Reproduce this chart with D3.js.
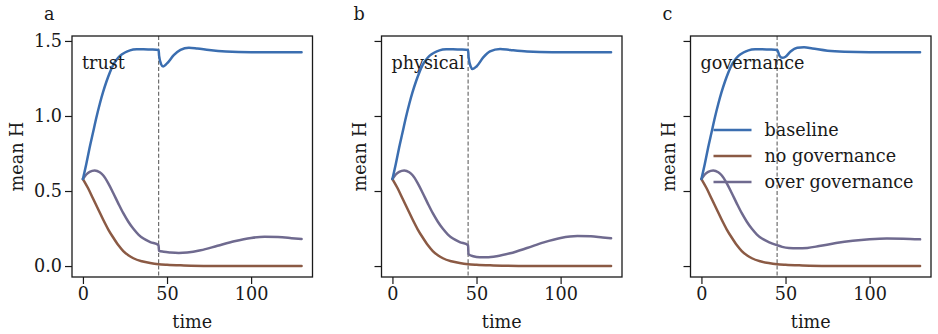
<!DOCTYPE html>
<html>
<head>
<meta charset="utf-8">
<script src="https://cdn.jsdelivr.net/npm/d3@7"></script>
<style>
    body { margin: 0; background: #fff; }
    svg text { font-family: "DejaVu Serif", serif; fill: #1a1a1a; }
</style>
</head>
<body>
<div id="chart"></div>
<script>
// Data
let panelIds = ["a", "b", "c"];
let panelNames = ["trust", "physical", "governance"];
let seriesNames = ["baseline", "no governance", "over governance"];
let seriesColors = ["#3b6eb0", "#8b5a44", "#6f6a8f"];
let xTicks = [0, 50, 100];
let yTicks = [0.0, 0.5, 1.0, 1.5];
let interventionTime = 45;

// [time, mean H]
let baselineRise = [[0, 0.58], [2, 0.68], [4, 0.79], [6, 0.89], [8, 0.99], [10, 1.08], [12, 1.16], [14, 1.23],
    [16, 1.29], [18, 1.34], [20, 1.375], [22, 1.40], [25, 1.423], [28, 1.437], [32, 1.444], [36, 1.445], [40, 1.443], [45, 1.44]];
let baselineTrust = [[45.3, 1.40], [46.5, 1.345], [47.7, 1.33], [50, 1.35], [54, 1.405], [58, 1.44], [63, 1.455],
    [68, 1.45], [75, 1.44], [85, 1.43], [100, 1.425], [130, 1.425]];
let baselinePhysical = [[45.3, 1.39], [46.5, 1.33], [47.7, 1.313], [50, 1.33], [54, 1.39], [58, 1.43], [64, 1.447],
    [70, 1.44], [80, 1.43], [95, 1.425], [130, 1.425]];
let baselineGovernance = [[46.5, 1.40], [48, 1.388], [50, 1.395], [53, 1.43], [57, 1.455], [61, 1.458],
    [66, 1.45], [75, 1.435], [85, 1.428], [100, 1.425], [130, 1.425]];

let noGovernance = [[0, 0.58], [3, 0.52], [6, 0.45], [9, 0.38], [12, 0.31], [15, 0.245], [18, 0.19], [21, 0.14],
    [24, 0.10], [27, 0.072], [30, 0.052], [35, 0.032], [40, 0.02], [45, 0.012], [50, 0.008], [60, 0.004], [75, 0.001], [130, 0]];

let overGovFall = [[0, 0.58], [2, 0.61], [4, 0.628], [7, 0.637], [10, 0.625], [12, 0.605], [15, 0.553], [18, 0.487],
    [21, 0.418], [24, 0.352], [27, 0.295], [30, 0.248], [33, 0.21], [36, 0.183], [40, 0.16], [45, 0.139]];
let overGovTrust = [[45.2, 0.102], [48, 0.095], [52, 0.09], [57, 0.087], [62, 0.09], [70, 0.105], [80, 0.135],
    [90, 0.165], [100, 0.187], [108, 0.195], [116, 0.193], [124, 0.186], [130, 0.18]];
let overGovPhysical = [[45.2, 0.08], [48, 0.065], [52, 0.058], [56, 0.058], [62, 0.065], [70, 0.085], [80, 0.12],
    [90, 0.158], [100, 0.187], [110, 0.2], [118, 0.198], [125, 0.19], [130, 0.185]];
let overGovGovernance = [[48, 0.128], [52, 0.12], [57, 0.118], [63, 0.121], [70, 0.133], [80, 0.153],
    [90, 0.168], [100, 0.178], [110, 0.183], [120, 0.182], [130, 0.178]];

let panelSeries = [
    [baselineRise.concat(baselineTrust), noGovernance, overGovFall.concat(overGovTrust)],
    [baselineRise.concat(baselinePhysical), noGovernance, overGovFall.concat(overGovPhysical)],
    [baselineRise.concat(baselineGovernance), noGovernance, overGovFall.concat(overGovGovernance)]
];

class visPanels {

    constructor(parentElement) {
        this.parentElement = parentElement;
        this.initVis();
    }

    initVis() {
        let vis = this;

        vis.width = 938;
        vis.height = 334;
        vis.panelLefts = [72, 381.5, 690.5];
        vis.panelWidth = 240.5;
        vis.top = 36;
        vis.bottom = 277;

        vis.svg = d3.select("#" + vis.parentElement).append("svg")
            .attr("width", vis.width)
            .attr("height", vis.height);

        vis.y = d3.scaleLinear().domain([-0.073, 1.533]).range([vis.bottom, vis.top]);

        panelIds.forEach((id, i) => vis.drawPanel(i));
        vis.drawLegend();
    }

    drawPanel(i) {
        let vis = this;
        let left = vis.panelLefts[i];

        let x = d3.scaleLinear().domain([-6.5, 136.5]).range([left, left + vis.panelWidth]);
        let g = vis.svg.append("g");

        // dashed intervention line
        g.append("line")
            .attr("x1", x(interventionTime)).attr("x2", x(interventionTime))
            .attr("y1", vis.top).attr("y2", vis.bottom)
            .attr("stroke", "#6e6e6e")
            .attr("stroke-width", 1.2)
            .attr("stroke-dasharray", "4,2.2");

        let line = d3.line()
            .x(d => x(d[0]))
            .y(d => vis.y(d[1]))
            .curve(d3.curveMonotoneX);

        // draw order: over governance, no governance, baseline on top
        [2, 1, 0].forEach(s => {
            g.append("path")
                .datum(panelSeries[i][s])
                .attr("d", line)
                .attr("fill", "none")
                .attr("stroke", seriesColors[s])
                .attr("stroke-width", 2.5)
                .attr("stroke-linecap", "round")
                .attr("stroke-linejoin", "round");
        });

        // x axis
        let xAxis = g.append("g")
            .attr("transform", `translate(0, ${vis.bottom})`)
            .call(d3.axisBottom(x).tickValues(xTicks).tickSize(7).tickPadding(4));
        xAxis.select(".domain").remove();
        xAxis.selectAll("line").attr("stroke", "#1a1a1a").attr("stroke-width", 1.2);
        xAxis.selectAll("text").style("font-size", "17.6px").attr("fill", "#1a1a1a");

        // y axis
        let yAxis = g.append("g")
            .attr("transform", `translate(${left}, 0)`)
            .call(d3.axisLeft(vis.y).tickValues(yTicks).tickSize(7).tickPadding(3)
                .tickFormat(i === 0 ? d3.format(".1f") : ""));
        yAxis.select(".domain").remove();
        yAxis.selectAll("line").attr("stroke", "#1a1a1a").attr("stroke-width", 1.2);
        yAxis.selectAll("text").style("font-size", "17.6px").attr("fill", "#1a1a1a");

        // frame
        g.append("rect")
            .attr("x", left).attr("y", vis.top)
            .attr("width", vis.panelWidth).attr("height", vis.bottom - vis.top)
            .attr("fill", "none")
            .attr("stroke", "#1a1a1a")
            .attr("stroke-width", 1.3);

        // labels
        g.append("text")
            .attr("x", left + vis.panelWidth / 2)
            .attr("y", 328)
            .attr("text-anchor", "middle")
            .style("font-size", "17.6px")
            .text("time");

        let labelX = i === 0 ? 22.5 : left - 15.5;
        g.append("text")
            .attr("transform", `translate(${labelX}, ${(vis.top + vis.bottom) / 2}) rotate(-90)`)
            .attr("text-anchor", "middle")
            .style("font-size", "17.6px")
            .text("mean H");

        g.append("text")
            .attr("x", left - 28)
            .attr("y", 19.5)
            .style("font-size", "17.6px")
            .text(panelIds[i]);

        g.append("text")
            .attr("x", left + 10)
            .attr("y", 69)
            .style("font-size", "17.6px")
            .text(panelNames[i]);
    }

    drawLegend() {
        let vis = this;
        let left = vis.panelLefts[2];
        let legend = vis.svg.append("g")
            .attr("transform", `translate(${left + 23}, 130)`);

        seriesNames.forEach((name, s) => {
            let row = legend.append("g").attr("transform", `translate(0, ${s * 26})`);
            row.append("line")
                .attr("x1", 0).attr("x2", 38)
                .attr("stroke", seriesColors[s])
                .attr("stroke-width", 2.5);
            row.append("text")
                .attr("x", 51)
                .attr("y", 6)
                .style("font-size", "17.6px")
                .text(name);
        });
    }
}

new visPanels("chart");
</script>
</body>
</html>
